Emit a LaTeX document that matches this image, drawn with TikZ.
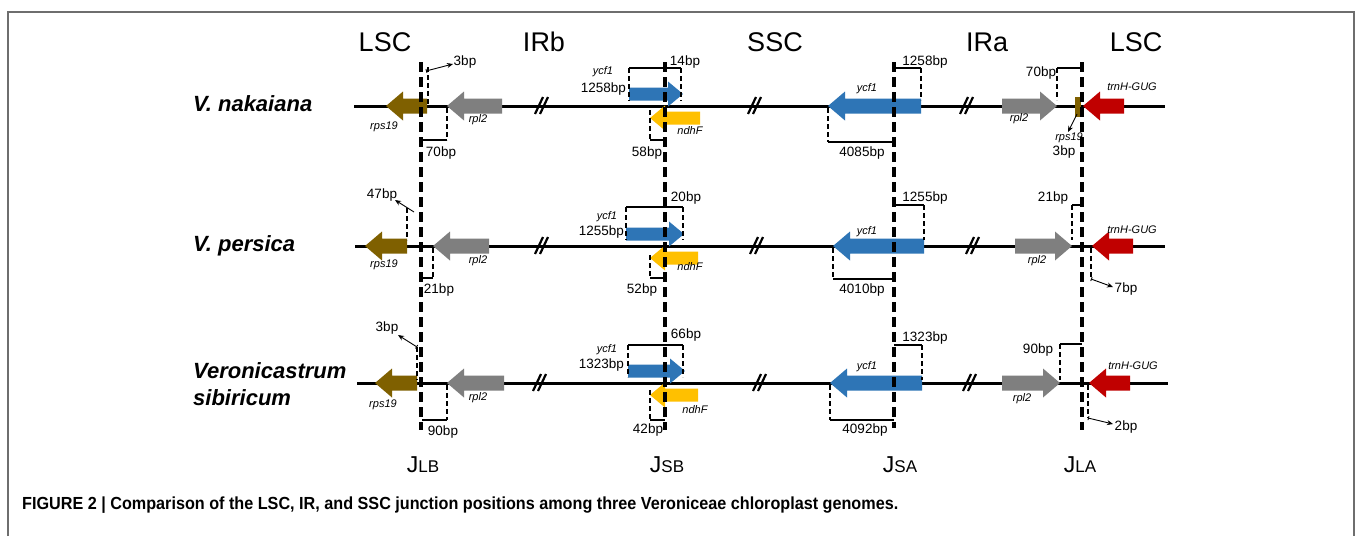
\documentclass[tikz,border=0pt]{standalone}
\usepackage{fontspec}
\setmainfont{Liberation Sans}
\usetikzlibrary{arrows.meta}
\definecolor{cBrown}{HTML}{7F6000}
\definecolor{cGray}{HTML}{7F7F7F}
\definecolor{cBlue}{HTML}{2E75B6}
\definecolor{cYellow}{HTML}{FFC000}
\definecolor{cRed}{HTML}{C00000}
\definecolor{cFrame}{HTML}{6E6E6E}
% left-pointing gene: colour, right end, tip, centre y
\newcommand\GeneL[4]{\fill[#1] (#2,#4-7.5) -- (#3+17,#4-7.5) -- (#3+17,#4-14.5) -- (#3,#4) -- (#3+17,#4+14.5) -- (#3+17,#4+7.5) -- (#2,#4+7.5) -- cycle;}
% right-pointing gene: colour, left end, tip, centre y
\newcommand\GeneR[4]{\fill[#1] (#2,#4-7.5) -- (#3-17,#4-7.5) -- (#3-17,#4-14.5) -- (#3,#4) -- (#3-17,#4+14.5) -- (#3-17,#4+7.5) -- (#2,#4+7.5) -- cycle;}
% small versions
\newcommand\GeneLs[4]{\fill[#1] (#2,#4-6.5) -- (#3+15,#4-6.5) -- (#3+15,#4-12.5) -- (#3,#4) -- (#3+15,#4+12.5) -- (#3+15,#4+6.5) -- (#2,#4+6.5) -- cycle;}
\newcommand\GeneRs[4]{\fill[#1] (#2,#4-6.5) -- (#3-15,#4-6.5) -- (#3-15,#4-12.5) -- (#3,#4) -- (#3-15,#4+12.5) -- (#3-15,#4+6.5) -- (#2,#4+6.5) -- cycle;}
% break mark
\newcommand\BreakMark[2]{\draw[line width=2.2pt] (#1-7,#2+8) -- (#1+1,#2-9); \draw[line width=2.2pt] (#1-2,#2+8) -- (#1+6,#2-9);}
\tikzset{
  backbone/.style={line width=3pt},
  junc/.style={line width=3.2pt, dash pattern=on 10pt off 5pt},
  bdash/.style={line width=1.8pt, dash pattern=on 5pt off 3pt},
  bsolid/.style={line width=2.2pt},
  bplab/.style={font=\fontsize{13.5}{15}\selectfont, inner sep=0pt},
  genelab/.style={font=\fontsize{11}{12}\selectfont\itshape, inner sep=0pt},
  region/.style={font=\fontsize{27}{30}\selectfont, inner sep=0pt},
  jlab/.style={inner sep=0pt},
  species/.style={font=\fontsize{22}{27}\selectfont\bfseries\itshape, inner sep=0pt, anchor=west, align=left},
  thinarrow/.style={line width=0.9pt, {Bar[width=4pt]}-{Stealth[length=6pt,width=5pt]}},
}
\begin{document}
\begin{tikzpicture}[x=1pt,y=-1pt]
\useasboundingbox (0,0) rectangle (1358,536);
\fill[white] (0,0) rectangle (1358,536);
\draw[cFrame, line width=1.3pt] (8,536) -- (8,12) -- (1354,12) -- (1354,536);

% region headers
\node[region] (hLSCa) at (385,42) {LSC};
\node[region] (hIRb) at (544,42) {IRb};
\node[region] (hSSC) at (775,42) {SSC};
\node[region] (hIRa) at (987,42) {IRa};
\node[region] (hLSCb) at (1136,42) {LSC};

% species
\node[species] (sp1) at (193,104) {V. nakaiana};
\node[species] (sp2) at (193,246) {V. persica};
\node[species] (sp3) at (193,384) {Veronicastrum\\sibiricum};

% ================= Row 1 (y=106)
\draw[backbone] (354,106) -- (1165,106);
\GeneL{cBrown}{427}{386}{106}
\GeneL{cGray}{502}{447}{106}
\BreakMark{542}{106}
\GeneRs{cBlue}{629}{683}{94}
\GeneLs{cYellow}{700}{650}{118}
\BreakMark{755}{106}
\GeneL{cBlue}{921}{828}{106}
\BreakMark{967}{106}
\GeneR{cGray}{1002}{1057}{106}
\fill[cBrown] (1075,97) rectangle (1081,117);
\GeneL{cRed}{1124}{1083}{106}

\node[genelab] (r1g1) at (384,127) {rps19};
\node[genelab] (r1g2) at (478,120) {rpl2};
\node[genelab] (r1g3) at (603,72) {ycf1};
\node[bplab, anchor=east] (r1b1) at (626,89) {1258bp};
\node[bplab] (r1b2) at (685,62) {14bp};
\node[bplab] (r1b3) at (647,153) {58bp};
\node[genelab] (r1g4) at (690,131) {ndhF};
\node[bplab] (r1b4) at (441,153) {70bp};
\node[bplab] (r1b5) at (465,62) {3bp};
\node[genelab] (r1g5) at (867,89) {ycf1};
\node[bplab] (r1b6) at (925,62) {1258bp};
\node[bplab] (r1b7) at (862,153) {4085bp};
\node[genelab] (r1g6) at (1019,119) {rpl2};
\node[bplab] (r1b8) at (1041,73) {70bp};
\node[genelab] (r1g7) at (1069,138) {rps19};
\node[bplab] (r1b9) at (1064,152) {3bp};
\node[genelab] (r1g8) at (1132,87) {trnH-GUG};

\draw[bdash] (428,67) -- (428,104);
\coordinate (r1a1s) at (426,71);
\coordinate (r1a1e) at (453,64);
\draw[thinarrow] (r1a1s) -- (r1a1e);
\draw[bdash] (629,68) -- (629,101);
\draw[bdash] (681,68) -- (681,101);
\draw[bsolid] (629,68) -- (681,68);
\draw[bdash] (650,110) -- (650,140);
\draw[bsolid] (650,140) -- (665,140);
\draw[bdash] (447,108) -- (447,140);
\draw[bsolid] (421,140) -- (447,140);
\draw[bsolid] (894,68) -- (921,68);
\draw[bdash] (921,68) -- (921,100);
\draw[bdash] (828,108) -- (828,142);
\draw[bsolid] (828,142) -- (894,142);
\draw[bsolid] (1057,68) -- (1082,68);
\draw[bdash] (1057,68) -- (1057,100);
\coordinate (r1a2s) at (1077,114);
\coordinate (r1a2e) at (1068,132);
\draw[line width=0.9pt, -{Stealth[length=6pt,width=5pt]}] (r1a2s) -- (r1a2e);

% ================= Row 2 (y=246)
\draw[backbone] (355,246) -- (1165,246);
\GeneL{cBrown}{407}{365}{246}
\GeneL{cGray}{489}{433}{246}
\BreakMark{542}{246}
\GeneRs{cBlue}{626}{684}{234}
\GeneLs{cYellow}{698}{650}{258}
\BreakMark{757}{246}
\GeneL{cBlue}{924}{833}{246}
\BreakMark{973}{246}
\GeneR{cGray}{1015}{1072}{246}
\GeneL{cRed}{1133}{1092}{246}

\node[genelab] (r2g1) at (384,265) {rps19};
\node[bplab] (r2b1) at (382,195) {47bp};
\node[genelab] (r2g2) at (478,261) {rpl2};
\node[bplab] (r2b2) at (439,290) {21bp};
\node[genelab] (r2g3) at (607,217) {ycf1};
\node[bplab, anchor=east] (r2b3) at (624,232) {1255bp};
\node[bplab] (r2b4) at (686,198) {20bp};
\node[genelab] (r2g4) at (690,267) {ndhF};
\node[bplab] (r2b5) at (642,290) {52bp};
\node[genelab] (r2g5) at (867,232) {ycf1};
\node[bplab] (r2b6) at (925,198) {1255bp};
\node[bplab] (r2b7) at (862,290) {4010bp};
\node[genelab] (r2g6) at (1037,261) {rpl2};
\node[bplab] (r2b8) at (1053,198) {21bp};
\node[genelab] (r2g7) at (1132,230) {trnH-GUG};
\node[bplab] (r2b9) at (1126,289) {7bp};

\draw[bdash] (407,208) -- (407,240);
\coordinate (r2a1s) at (414,212);
\coordinate (r2a1e) at (395,200);
\draw[line width=0.9pt, -{Stealth[length=6pt,width=5pt]}] (r2a1s) -- (r2a1e);
\draw[bdash] (433,248) -- (433,278);
\draw[bsolid] (422,278) -- (433,278);
\draw[bsolid] (626,207) -- (683,207);
\draw[bdash] (626,207) -- (626,240);
\draw[bdash] (683,207) -- (683,240);
\draw[bdash] (650,255) -- (650,278);
\draw[bsolid] (650,278) -- (665,278);
\draw[bsolid] (894,205) -- (924,205);
\draw[bdash] (924,205) -- (924,240);
\draw[bdash] (833,248) -- (833,279);
\draw[bsolid] (833,279) -- (894,279);
\draw[bsolid] (1072,205) -- (1082,205);
\draw[bdash] (1072,205) -- (1072,240);
\draw[bdash] (1091,248) -- (1091,279);
\coordinate (r2a2s) at (1091,279);
\coordinate (r2a2e) at (1113,287);
\draw[thinarrow] (r2a2s) -- (r2a2e);

% ================= Row 3 (y=383)
\draw[backbone] (357,383) -- (1168,383);
\GeneL{cBrown}{417}{375}{383}
\GeneL{cGray}{504}{447}{383}
\BreakMark{540}{383}
\GeneRs{cBlue}{628}{685}{371}
\GeneLs{cYellow}{698}{650}{395}
\BreakMark{760}{383}
\GeneL{cBlue}{922}{830}{383}
\BreakMark{970}{383}
\GeneR{cGray}{1002}{1060}{383}
\GeneL{cRed}{1130}{1089}{383}

\node[genelab] (r3g1) at (383,405) {rps19};
\node[bplab] (r3b1) at (387,328) {3bp};
\node[genelab] (r3g2) at (478,398) {rpl2};
\node[bplab] (r3b2) at (443,432) {90bp};
\node[genelab] (r3g3) at (607,350) {ycf1};
\node[bplab, anchor=east] (r3b3) at (624,365) {1323bp};
\node[bplab] (r3b4) at (686,335) {66bp};
\node[genelab] (r3g4) at (695,410) {ndhF};
\node[bplab] (r3b5) at (648,430) {42bp};
\node[genelab] (r3g5) at (867,367) {ycf1};
\node[bplab] (r3b6) at (925,338) {1323bp};
\node[bplab] (r3b7) at (865,430) {4092bp};
\node[genelab] (r3g6) at (1022,399) {rpl2};
\node[bplab] (r3b8) at (1038,350) {90bp};
\node[genelab] (r3g7) at (1133,366) {trnH-GUG};
\node[bplab] (r3b9) at (1126,427) {2bp};

\draw[bdash] (417,347) -- (417,380);
\coordinate (r3a1s) at (417,347);
\coordinate (r3a1e) at (398,335);
\draw[thinarrow] (r3a1s) -- (r3a1e);
\draw[bdash] (447,385) -- (447,420);
\draw[bsolid] (422,420) -- (447,420);
\draw[bsolid] (628,345) -- (683,345);
\draw[bdash] (628,345) -- (628,377);
\draw[bdash] (683,345) -- (683,377);
\draw[bdash] (650,390) -- (650,420);
\draw[bsolid] (650,420) -- (665,420);
\draw[bsolid] (894,345) -- (922,345);
\draw[bdash] (922,345) -- (922,380);
\draw[bdash] (830,385) -- (830,420);
\draw[bsolid] (830,420) -- (894,420);
\draw[bsolid] (1060,344) -- (1082,344);
\draw[bdash] (1060,344) -- (1060,380);
\draw[bdash] (1088,385) -- (1088,418);
\coordinate (r3a2s) at (1088,418);
\coordinate (r3a2e) at (1113,424);
\draw[thinarrow] (r3a2s) -- (r3a2e);

% ================= junctions
\draw[junc] (421,62) -- (421,430);
\draw[junc] (665,62) -- (665,430);
\draw[junc] (894,62) -- (894,428);
\draw[junc] (1082,62) -- (1082,430);

\node[jlab] (jLB) at (423,465) {\fontsize{23}{24}\selectfont J\fontsize{17}{20}\selectfont LB};
\node[jlab] (jSB) at (667,465) {\fontsize{23}{24}\selectfont J\fontsize{17}{20}\selectfont SB};
\node[jlab] (jSA) at (900,465) {\fontsize{23}{24}\selectfont J\fontsize{17}{20}\selectfont SA};
\node[jlab] (jLA) at (1080,465) {\fontsize{23}{24}\selectfont J\fontsize{17}{20}\selectfont LA};

% caption
\node[anchor=west, inner sep=0pt] (cap) at (22,505) {\resizebox{876pt}{\height}{\fontsize{17.5}{19}\selectfont\bfseries FIGURE 2 | Comparison of the LSC, IR, and SSC junction positions among three Veroniceae chloroplast genomes.}};
\end{tikzpicture}
\end{document}
